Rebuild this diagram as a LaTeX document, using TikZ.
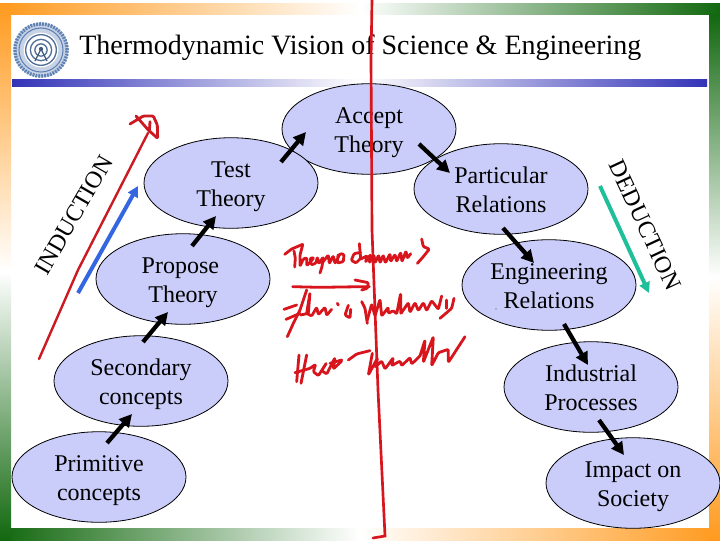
\documentclass[tikz,border=0pt]{standalone}
\usepackage{fontspec}
\setmainfont{Liberation Serif}
\usetikzlibrary{shapes.geometric,arrows.meta}
\definecolor{bandorange}{HTML}{FF9A1E}
\definecolor{bandgreen}{HTML}{12680F}
\definecolor{barblue}{HTML}{3333B8}
\definecolor{ellfill}{HTML}{CACCF9}
\definecolor{inkred}{HTML}{D8141C}
\definecolor{arrowred}{HTML}{CC1A22}
\definecolor{indblue}{HTML}{3366E0}
\definecolor{dedteal}{HTML}{1FBF9A}
\definecolor{logoblue}{HTML}{5F82B4}
\newcommand{\twoln}[2]{\begin{tabular}{@{}c@{}}\rule{0pt}{19.75pt}#1\\#2\end{tabular}}
\tikzset{
  idea/.style={ellipse,draw=black,line width=0.6pt,fill=ellfill,minimum width=130.5pt,minimum height=67.5pt,inner sep=0pt,font=\fontsize{18}{21.75}\selectfont},
  flow/.style={line width=3.2pt,draw=black,-{Triangle[length=9.5pt,width=9.5pt]}},
  sidearrow/.style={line width=3pt,-{Triangle[length=8pt,width=8pt]}},
  sidelabel/.style={font=\fontsize{18}{22}\selectfont},
  ink/.style={draw=inkred,line width=2.1pt,line join=round,line cap=round,rounded corners=0.8pt},
}
\begin{document}
\begin{tikzpicture}[x=0.75pt,y=-0.75pt]
\useasboundingbox (0,0) rectangle (720,540);
\fill[white] (0,0) rectangle (720,540);
% frame bands
\shade[left color=bandorange,right color=bandgreen,middle color=white] (0,3) rectangle (720,14);
\shade[left color=bandgreen,right color=bandorange,middle color=white] (0,528) rectangle (720,540);
\shade[top color=bandorange,bottom color=bandgreen,middle color=white] (0,3) rectangle (11,540);
\shade[top color=bandgreen,bottom color=bandorange,middle color=white] (709,14) rectangle (720,540);
% title bar
\shade[left color=barblue,right color=barblue,middle color=white] (12,79) rectangle (707,86);
% logo
\fill[logoblue!35] (41,50) circle (20.5pt);
\draw[logoblue,line width=2.6pt,dash pattern=on 1.4pt off 0.8pt] (41,50) circle (19.6pt);
\draw[logoblue,line width=0.8pt] (41,50) circle (16.5pt);
\fill[white] (41,50) circle (13pt);
\draw[logoblue!85!black,line width=1pt] (41,50) circle (11.5pt);
\draw[logoblue!85!black,line width=1pt] (41,50) circle (8pt);
\draw[logoblue!85!black,line width=1pt] (41,50) circle (4.6pt);
\draw[logoblue!70!black,line width=1pt] (35,61) -- (41,49) -- (47,61);
\fill[logoblue!70!black] (41,49) circle (1.6pt);
% title
\node[anchor=base west,inner sep=0pt,font=\fontsize{21}{25}\selectfont] (title) at (79,54) {Thermodynamic Vision of Science \& Engineering};
% ellipses
\node[idea] (accept) at (369,129) {\twoln{Accept}{Theory}};
\node[idea] (test) at (231,183) {\twoln{Test}{Theory}};
\node[idea] (particular) at (501,189) {\twoln{Particular}{Relations}};
\node[idea] (propose) at (183,279) {\twoln{\hspace{-4pt}Propose}{Theory}};
\node[idea] (engineering) at (549,285) {\twoln{Engineering}{Relations}};
\node[idea] (secondary) at (141,381) {\twoln{Secondary}{concepts}};
\node[idea] (industrial) at (591,387) {\twoln{Industrial}{Processes}};
\node[idea] (primitive) at (99,477) {\twoln{Primitive}{concepts}};
\node[idea] (impact) at (633,483) {\twoln{Impact on}{Society}};
\fill[black!70] (496,309) circle (0.5pt);
% connector ends
\coordinate (p1a) at (107,443); \coordinate (p1b) at (132,414);
\coordinate (p2a) at (143,342); \coordinate (p2b) at (168,312);
\coordinate (p3a) at (192,246); \coordinate (p3b) at (216,216);
\coordinate (p4a) at (281,162); \coordinate (p4b) at (306,132);
\coordinate (p5a) at (419,144); \coordinate (p5b) at (450,173);
\coordinate (p6a) at (503,228); \coordinate (p6b) at (534,263);
\coordinate (p7a) at (564,324); \coordinate (p7b) at (588,365);
\coordinate (p8a) at (599,420); \coordinate (p8b) at (624,455);
\draw[flow] (p1a) -- (p1b);
\draw[flow] (p2a) -- (p2b);
\draw[flow] (p3a) -- (p3b);
\draw[flow] (p4a) -- (p4b);
\draw[flow] (p5a) -- (p5b);
\draw[flow] (p6a) -- (p6b);
\draw[flow] (p7a) -- (p7b);
\draw[flow] (p8a) -- (p8b);
% induction / deduction
\coordinate (inda) at (78,293); \coordinate (indb) at (138,186);
\coordinate (deda) at (600,186); \coordinate (dedb) at (649,293);
\draw[sidearrow,color=indblue] (inda) -- (indb);
\draw[sidearrow,color=dedteal] (deda) -- (dedb);
\node[sidelabel,rotate=60] (induction) at (74,215) {INDUCTION};
\node[sidelabel,rotate=-65] (deduction) at (645,225) {DEDUCTION};
% red annotations
\draw[draw=arrowred,line width=1.8pt,line cap=round] (39,359) -- (78,270) -- (148,133);
\begin{scope}[shift={(120,100)},x=0.25pt,y=-0.25pt]
\draw[ink,draw=arrowred] (30,72) -- (70,48) -- (100,48) -- (112,75) -- (113,115) -- (85,90) -- (48,48);
\draw[ink,draw=arrowred] (90,65) -- (88,95);
\end{scope}
\draw[draw=inkred,line width=2pt,line cap=round] (372,0) -- (371,60) -- (372,230) -- (378,390) -- (385,536) -- (373,538);
\begin{scope}[shift={(280,235)},x=0.25pt,y=-0.25pt]
\draw[ink] (14,58) -- (35,42) -- (68,28);
\draw[ink] (42,48) -- (46,70) -- (44,96);
\draw[ink] (68,30) -- (60,60) -- (60,94) -- (70,72) -- (80,68) -- (80,92) -- (92,80) -- (102,68) -- (90,70) -- (94,90) -- (108,84) -- (112,66) -- (116,86) -- (130,66) -- (126,95) -- (120,114);
\draw[ink] (128,82) -- (145,60) -- (148,86) -- (160,62) -- (165,86) -- (180,56) -- (192,58) -- (190,80) -- (172,84) -- (174,60);
\draw[ink] (242,52) -- (222,56) -- (214,76) -- (228,84) -- (242,70) -- (238,26);
\draw[ink] (242,72) -- (262,62) -- (256,82) -- (272,58) -- (268,84) -- (282,60) -- (285,84) -- (296,60) -- (300,84) -- (310,60) -- (316,84) -- (330,56) -- (332,80) -- (345,58) -- (350,80) -- (362,52) -- (366,80) -- (378,48) -- (382,70) -- (392,56);
\draw[ink] (425,12) -- (430,35) -- (448,42) -- (430,65) -- (412,85);
\end{scope}
\begin{scope}[shift={(280,280)},x=0.25pt,y=-0.25pt]
\draw[ink] (38,20) -- (120,22) -- (245,20) -- (268,20);
\draw[ink] (225,0) -- (265,8) -- (262,25) -- (245,30);
\draw[ink] (12,88) -- (50,75);
\draw[ink] (80,30) -- (60,90) -- (40,130) -- (22,170);
\draw[ink] (18,118) -- (60,100);
\draw[ink] (62,105) -- (85,100) -- (90,38) -- (80,100) -- (95,108) -- (110,82) -- (115,104) -- (135,82) -- (140,106) -- (155,88);
\draw[ink] (172,70) -- (175,75);
\draw[ink] (205,76) -- (195,105) -- (210,114) -- (212,88);
\draw[ink] (245,65) -- (255,85) -- (262,130);
\draw[ink] (262,120) -- (275,72) -- (285,108) -- (300,58) -- (305,108) -- (325,82) -- (325,100) -- (340,92) -- (350,102) -- (362,40) -- (362,102) -- (385,68) -- (390,97) -- (405,68) -- (415,92) -- (430,68) -- (440,92) -- (455,62) -- (475,88) -- (485,48);
\draw[ink] (522,55) -- (515,85) -- (480,115);
\draw[ink] (500,60) -- (500,85);
\end{scope}
\begin{scope}[shift={(285,330)},x=0.25pt,y=-0.25pt]
\draw[ink] (42,75) -- (35,155);
\draw[ink] (65,75) -- (48,160);
\draw[ink] (30,128) -- (75,115) -- (92,103) -- (85,125) -- (100,137) -- (125,98) -- (110,122) -- (125,132) -- (150,83) -- (145,117) -- (170,93);
\draw[ink] (135,100) -- (170,90);
\draw[ink] (190,90) -- (215,72) -- (255,62);
\draw[ink] (262,70) -- (250,135) -- (278,83) -- (270,112) -- (290,93) -- (300,117) -- (325,83) -- (320,107) -- (345,93) -- (350,107) -- (375,83) -- (380,102) -- (405,78) -- (420,30) -- (415,97) -- (445,20) -- (440,107) -- (460,68) -- (490,58) -- (490,97) -- (540,20);
\end{scope}
\end{tikzpicture}
\end{document}
